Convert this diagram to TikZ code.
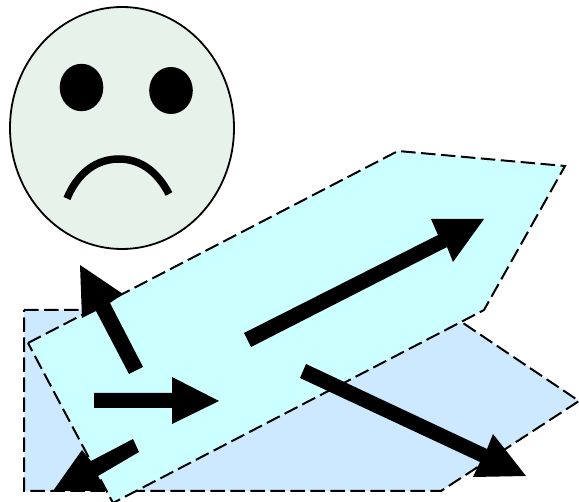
\documentclass[tikz,border=0pt]{standalone}
\definecolor{paleblue}{HTML}{CCE9FF}
\definecolor{palecyan}{HTML}{CCFFFF}
\definecolor{paleface}{HTML}{E6F2EA}
\tikzset{
  region/.style={draw=black,line width=2pt,dash pattern=on 14.5pt off 5.5pt,line join=miter},
  arrowshape/.style={fill=black,draw=none},
  facefeature/.style={fill=black,draw=none}
}
\begin{document}
\begin{tikzpicture}[x=1pt,y=-1pt]
\useasboundingbox (0,0) rectangle (579,502);
\clip (0,0) rectangle (579,502);
% lower region
\draw[region,fill=paleblue] (24,310) -- (130,310) -- (463,323) -- (579,401) -- (441,491) -- (24,491) -- cycle;
% upper region
\draw[region,fill=palecyan] (28,343) -- (398,151) -- (565,166) -- (484,310) -- (113,503) -- cycle;
% face
\draw[line width=1.8pt,fill=paleface] (122,128) ellipse [x radius=112,y radius=121];
\fill[facefeature] (81.5,87.5) ellipse [x radius=21.8,y radius=23.7];
\fill[facefeature] (171,90.5) ellipse [x radius=21.8,y radius=23.5];
\draw[line width=7.5pt] (67,198.5) .. controls (78,172) and (97,159) .. (119,159) .. controls (140,159) and (157,171) .. (169,194);
% arrows
\fill[arrowshape] (129,374) -- (143,367) -- (110,303) -- (123,294) -- (80,265) -- (82,318) -- (96,311) -- cycle;
\fill[arrowshape] (94,393) -- (172,393) -- (172,377) -- (219,401) -- (172,424) -- (172,408) -- (94,408) -- cycle;
\fill[arrowshape] (133,439) -- (139,452) -- (98,476) -- (106,491) -- (53,491) -- (82,450) -- (91,461) -- cycle;
\fill[arrowshape] (244,333) -- (251,347) -- (447,247) -- (453,262) -- (484,219) -- (431,219) -- (438,235) -- cycle;
\fill[arrowshape] (306,364) -- (300,378) -- (480,462) -- (473,477) -- (526,476) -- (493,434) -- (487,449) -- cycle;
\end{tikzpicture}
\end{document}
